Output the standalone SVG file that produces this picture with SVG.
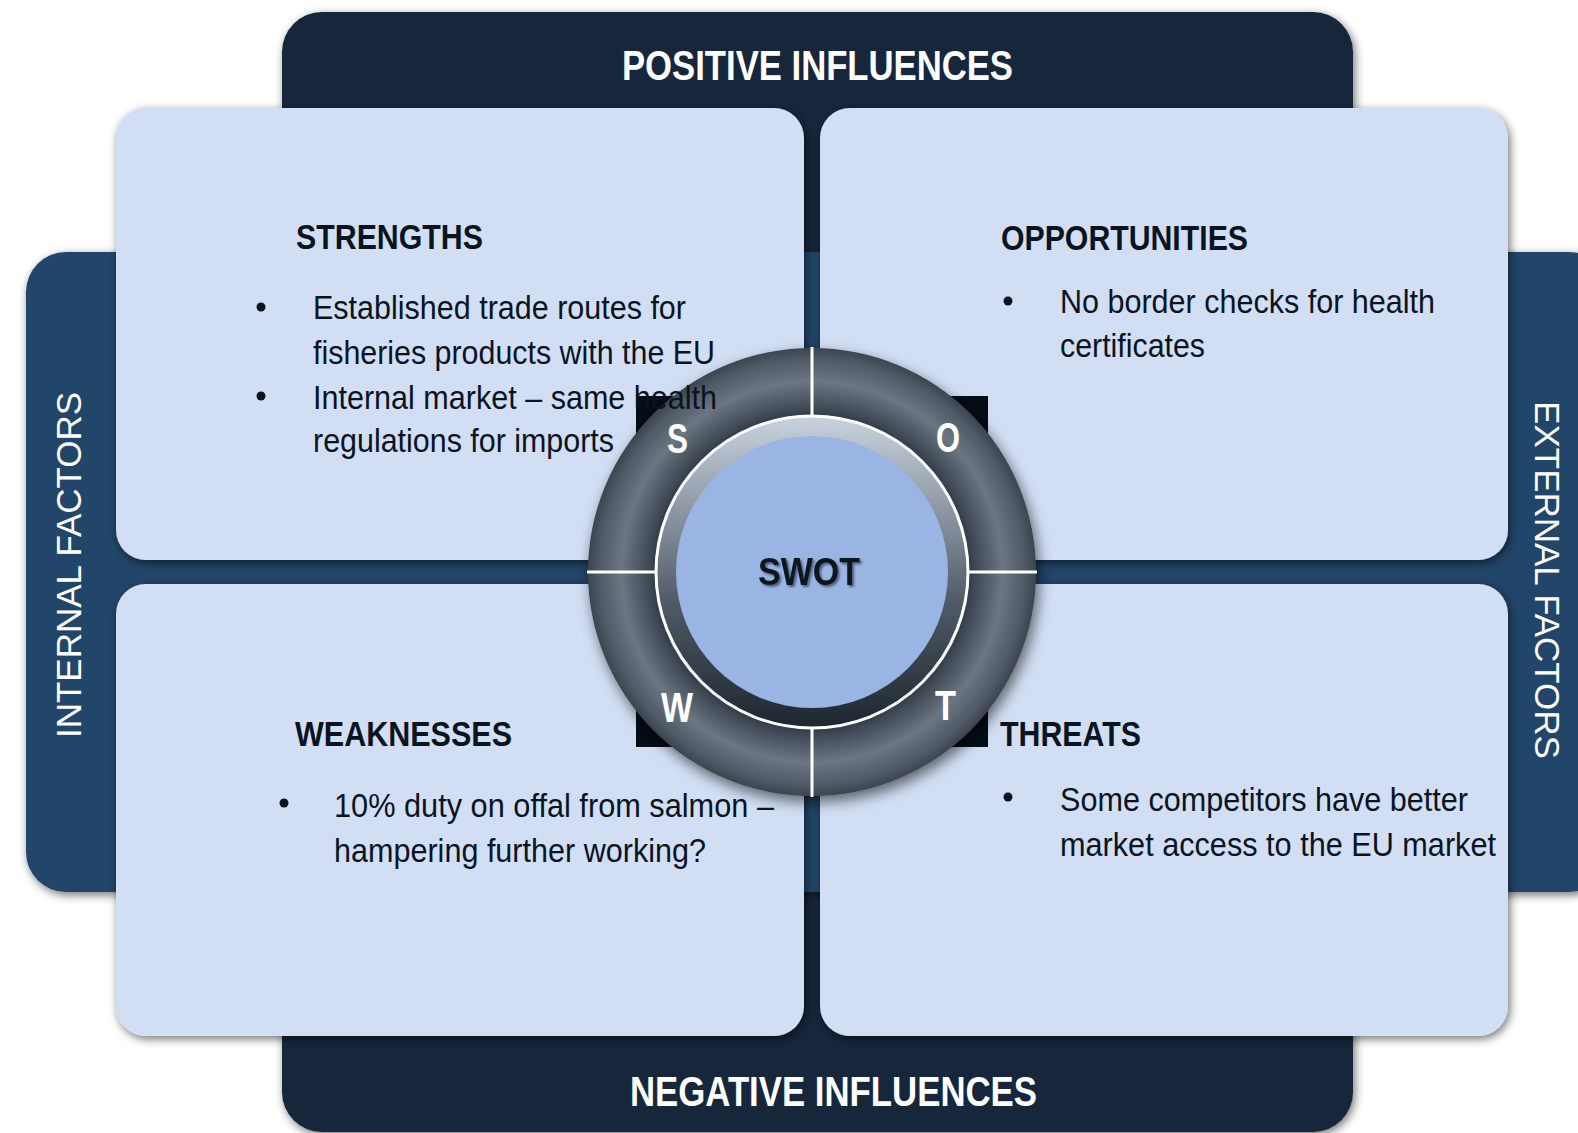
<svg xmlns="http://www.w3.org/2000/svg" width="1578" height="1133" viewBox="0 0 1578 1133">
<defs>
<filter id="sh" x="-10%" y="-10%" width="120%" height="120%">
<feDropShadow dx="2" dy="3" stdDeviation="5" flood-color="#000" flood-opacity="0.55"/>
</filter>
<filter id="shc" x="-20%" y="-20%" width="140%" height="140%">
<feDropShadow dx="3" dy="6" stdDeviation="7" flood-color="#000" flood-opacity="0.55"/>
</filter>
<filter id="tsh" x="-10%" y="-20%" width="130%" height="150%">
<feDropShadow dx="2" dy="2" stdDeviation="1.2" flood-color="#3a4a60" flood-opacity="0.8"/>
</filter>
<radialGradient id="ringG" gradientUnits="userSpaceOnUse" cx="812" cy="572" r="224">
<stop offset="0.68" stop-color="#2a343f"/>
<stop offset="0.73" stop-color="#404a55"/>
<stop offset="0.85" stop-color="#6b7681"/>
<stop offset="0.95" stop-color="#505a65"/>
<stop offset="1" stop-color="#3b4550"/>
</radialGradient>
<linearGradient id="wellG" gradientUnits="userSpaceOnUse" x1="0" y1="416" x2="0" y2="728">
<stop offset="0" stop-color="#c8d3de"/>
<stop offset="0.3" stop-color="#8d98a4"/>
<stop offset="0.6" stop-color="#4f5a66"/>
<stop offset="1" stop-color="#1d2630"/>
</linearGradient>
<style>
.band{fill:#12253a}
.side{fill:#21456a}
.card{fill:#d1def4}
.ttl{font-family:"Liberation Sans Narrow","Liberation Sans",Arial,sans-serif;font-weight:bold;fill:#ffffff}
.side-t{font-family:"Liberation Sans",Arial,sans-serif;fill:#ffffff}
.hd{font-family:"Liberation Sans Narrow","Liberation Sans",Arial,sans-serif;font-weight:bold;font-size:35px;fill:#0a141f}
.tx{font-family:"Liberation Sans Narrow","Liberation Sans",Arial,sans-serif;font-size:33px;fill:#0a141f}
.bul{fill:#0a141f}
.ltr{font-family:"Liberation Sans Narrow","Liberation Sans",Arial,sans-serif;font-weight:bold;font-size:42px;fill:#ffffff}
.div{stroke:#ffffff;stroke-width:3}
</style>
</defs>

<g id="bands">
<rect class="band" x="282" y="12" width="1071" height="520" rx="40" filter="url(#sh)"/>
<rect class="band" x="282" y="612" width="1071" height="520" rx="40" filter="url(#sh)"/>
<rect class="side" x="26" y="252" width="1583" height="640" rx="40" filter="url(#sh)"/>
<text class="ttl" x="622" y="80" font-size="43" textLength="391" lengthAdjust="spacingAndGlyphs">POSITIVE INFLUENCES</text>
<text class="ttl" x="630" y="1106" font-size="43" textLength="407" lengthAdjust="spacingAndGlyphs">NEGATIVE INFLUENCES</text>
<text class="side-t" font-size="35" text-anchor="middle" transform="translate(81,565) rotate(-90)">INTERNAL FACTORS</text>
<text class="side-t" font-size="35" text-anchor="middle" transform="translate(1535,580) rotate(90)">EXTERNAL FACTORS</text>
</g>

<g id="strengths">
<rect class="card" x="116" y="108" width="688" height="452" rx="30" filter="url(#sh)"/>
</g>
<g id="opportunities">
<rect class="card" x="820" y="108" width="688" height="452" rx="30" filter="url(#sh)"/>
</g>
<g id="weaknesses">
<rect class="card" x="116" y="584" width="688" height="452" rx="30" filter="url(#sh)"/>
</g>
<g id="threats">
<rect class="card" x="820" y="584" width="688" height="452" rx="30" filter="url(#sh)"/>
</g>

<g id="swot">
<rect x="636" y="396" width="352" height="351" fill="#050c16"/>
<circle cx="812" cy="572" r="224" fill="url(#ringG)" filter="url(#shc)"/>
<circle cx="812" cy="572" r="156" fill="url(#wellG)" stroke="#ffffff" stroke-width="3"/>
<circle cx="812" cy="572" r="136" fill="#9ab5e3"/>
<g id="connectors">
<line class="div" x1="812" y1="347" x2="812" y2="415"/>
<line class="div" x1="812" y1="729" x2="812" y2="797"/>
<line class="div" x1="587" y1="572" x2="655" y2="572"/>
<line class="div" x1="969" y1="572" x2="1037" y2="572"/>
</g>
<text class="ltr" x="667" y="453" textLength="21" lengthAdjust="spacingAndGlyphs">S</text>
<text class="ltr" x="936" y="452" textLength="24" lengthAdjust="spacingAndGlyphs">O</text>
<text class="ltr" x="661" y="722" textLength="32" lengthAdjust="spacingAndGlyphs">W</text>
<text class="ltr" x="935" y="720" textLength="21" lengthAdjust="spacingAndGlyphs">T</text>
<text x="758" y="585" font-family="'Liberation Sans Narrow','Liberation Sans',Arial,sans-serif" font-weight="bold" font-size="39" fill="#0a141f" textLength="102" lengthAdjust="spacingAndGlyphs" filter="url(#tsh)">SWOT</text>
</g>

<g id="texts-strengths">
<text class="hd" x="296" y="249" textLength="187" lengthAdjust="spacingAndGlyphs">STRENGTHS</text>
<circle class="bul" cx="261" cy="307" r="4.5"/>
<circle class="bul" cx="261" cy="396" r="4.5"/>
<text class="tx" x="313" y="319" textLength="373" lengthAdjust="spacingAndGlyphs">Established trade routes for</text>
<text class="tx" x="313" y="364" textLength="402" lengthAdjust="spacingAndGlyphs">fisheries products with the EU</text>
<text class="tx" x="313" y="409" textLength="404" lengthAdjust="spacingAndGlyphs">Internal market – same health</text>
<text class="tx" x="313" y="452" textLength="301" lengthAdjust="spacingAndGlyphs">regulations for imports</text>
</g>
<g id="texts-opportunities">
<text class="hd" x="1001" y="250" textLength="247" lengthAdjust="spacingAndGlyphs">OPPORTUNITIES</text>
<circle class="bul" cx="1008" cy="301" r="4.5"/>
<text class="tx" x="1060" y="313" textLength="375" lengthAdjust="spacingAndGlyphs">No border checks for health</text>
<text class="tx" x="1060" y="357" textLength="145" lengthAdjust="spacingAndGlyphs">certificates</text>
</g>
<g id="texts-weaknesses">
<text class="hd" x="295" y="746" textLength="217" lengthAdjust="spacingAndGlyphs">WEAKNESSES</text>
<circle class="bul" cx="284" cy="803" r="4.5"/>
<text class="tx" x="334" y="817" textLength="440" lengthAdjust="spacingAndGlyphs">10% duty on offal from salmon –</text>
<text class="tx" x="334" y="862" textLength="372" lengthAdjust="spacingAndGlyphs">hampering further working?</text>
</g>
<g id="texts-threats">
<text class="hd" x="1000" y="746" textLength="141" lengthAdjust="spacingAndGlyphs">THREATS</text>
<circle class="bul" cx="1008" cy="797" r="4.5"/>
<text class="tx" x="1060" y="811" textLength="408" lengthAdjust="spacingAndGlyphs">Some competitors have better</text>
<text class="tx" x="1060" y="856" textLength="436" lengthAdjust="spacingAndGlyphs">market access to the EU market</text>
</g>
</svg>
